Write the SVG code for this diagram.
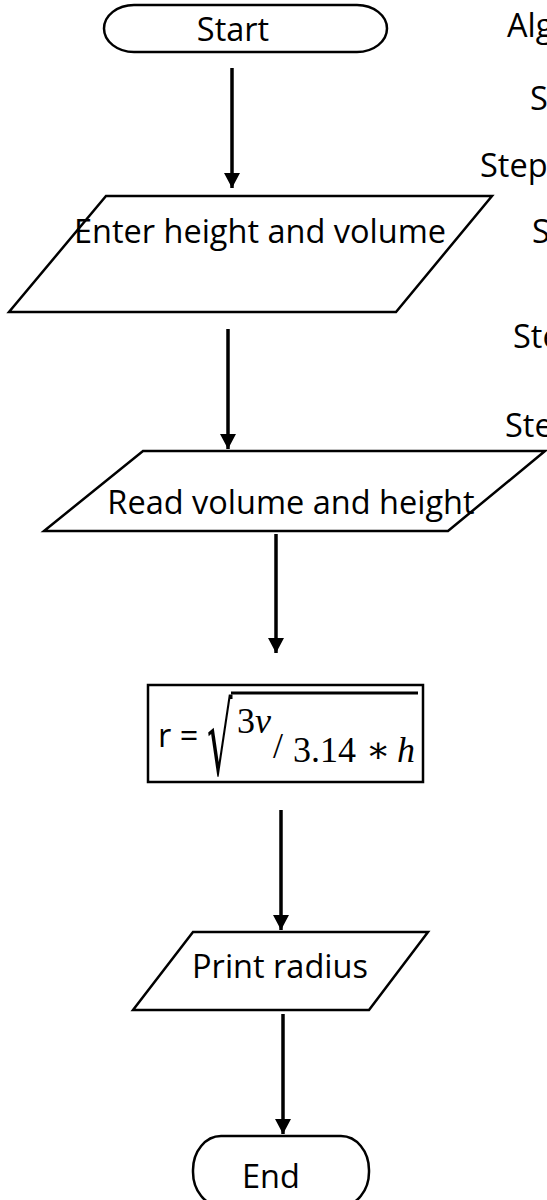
<svg xmlns="http://www.w3.org/2000/svg" width="547" height="1200" viewBox="0 0 547 1200">
<style>
.shape{fill:#fff;stroke:#000;stroke-width:2.5}
.lbl{font-family:"Open Sans","Liberation Sans",sans-serif;font-size:32.5px;fill:#000}
.math{font-family:"Liberation Serif","DejaVu Serif",serif;font-size:36px;fill:#000}
.conn{stroke:#000;stroke-width:3.5;fill:none;marker-end:url(#ah)}
</style>
<defs>
<marker id="ah" markerUnits="userSpaceOnUse" markerWidth="16" markerHeight="16" viewBox="0 0 16 16" refX="15" refY="8" orient="auto">
<path d="M0,0 L15,8 L0,16 Z" fill="#000"/>
</marker>
</defs>
<rect width="547" height="1200" fill="#fff"/>
<g id="connectors">
<line class="conn" x1="232" y1="68" x2="232" y2="188"/>
<line class="conn" x1="228" y1="329" x2="228" y2="449"/>
<line class="conn" x1="276" y1="534" x2="276" y2="653"/>
<line class="conn" x1="281" y1="810" x2="281" y2="930"/>
<line class="conn" x1="283" y1="1014" x2="283" y2="1134"/>
</g>
<g id="start">
<rect class="shape" x="104" y="5" width="283" height="47" rx="30" ry="23.5"/>
<text class="lbl" x="233" y="41" text-anchor="middle">Start</text>
</g>
<g id="input1">
<polygon class="shape" points="106,196 492,196 396,312 9,312"/>
<text class="lbl" x="260" y="243" text-anchor="middle">Enter height and volume</text>
</g>
<g id="input2">
<polygon class="shape" points="143,451 545,451 448,531 44,531"/>
<text class="lbl" x="291" y="514" text-anchor="middle">Read volume and height</text>
</g>
<g id="process">
<rect class="shape" x="148" y="685" width="275" height="97"/>
<text class="lbl" x="158" y="747">r =</text>
<text transform="translate(207,775) scale(1,2.48)" font-family="DejaVu Sans" font-size="40" fill="#000">√</text>
<line x1="231" y1="693" x2="418" y2="693" stroke="#000" stroke-width="3"/>
<text class="math" x="237" y="733" font-size="37">3<tspan font-style="italic">v</tspan></text>
<text class="math" x="273" y="758" font-size="42">/</text>
<text class="math" x="293" y="762">3.14</text>
<text class="math" x="366" y="762">∗</text>
<text class="math" x="397" y="762" font-style="italic">h</text>
</g>
<g id="output">
<polygon class="shape" points="193,932 428,932 369,1010 133,1010"/>
<text class="lbl" x="280" y="978" text-anchor="middle">Print radius</text>
</g>
<g id="end">
<rect class="shape" x="193" y="1136" width="176" height="70" rx="28" ry="34"/>
<text class="lbl" x="271" y="1188" text-anchor="middle">End</text>
</g>
<g id="side-text">
<text class="lbl" x="507" y="37">Alg</text>
<text class="lbl" x="530" y="110">S</text>
<text class="lbl" x="480" y="177">Step</text>
<text class="lbl" x="532" y="243">S</text>
<text class="lbl" x="513" y="348">Ste</text>
<text class="lbl" x="505" y="437">Ste</text>
</g>
</svg>
